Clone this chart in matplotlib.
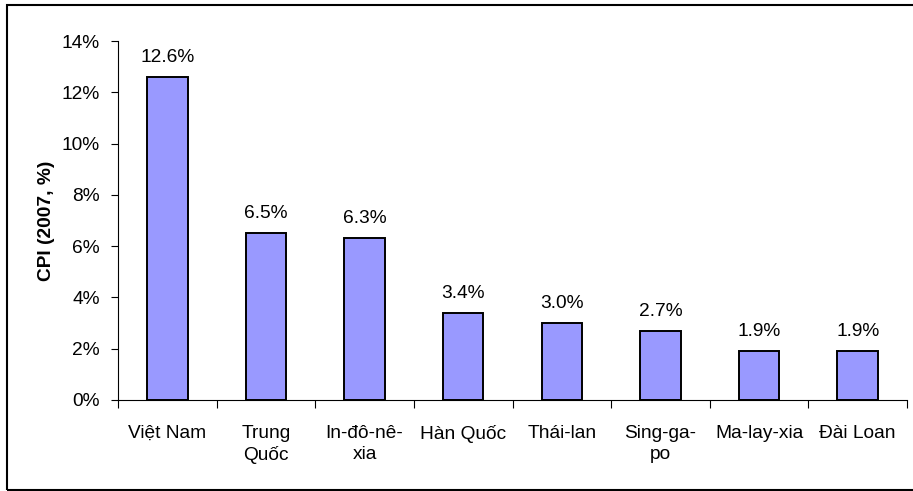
import matplotlib.pyplot as plt
from matplotlib.patches import Rectangle
from matplotlib.ticker import FixedLocator, FuncFormatter, NullFormatter
import numpy as np

plt.rcParams['font.family'] = ['Liberation Sans', 'DejaVu Sans']

# CPI 2007 by economy (%)
countries = ["Việt Nam", "Trung\nQuốc", "In-đô-nê-\nxia", "Hàn Quốc",
             "Thái-lan", "Sing-ga-\npo", "Ma-lay-xia", "Đài Loan"]
cpi = [12.6, 6.5, 6.3, 3.4, 3.0, 2.7, 1.9, 1.9]
ylabel = "CPI (2007, %)"

fs = 13.8

fig = plt.figure(figsize=(9.13, 4.91), dpi=100)
ax = fig.add_axes([118 / 913, 1 - 400 / 491, (907 - 118) / 913, (400 - 41) / 491])

x = np.arange(len(countries))
bars = ax.bar(x, cpi, width=0.41, color="#9999FF", edgecolor="black", linewidth=1.4, zorder=3)

for b, v in zip(bars, cpi):
    ax.annotate("%.1f%%" % v, (b.get_x() + b.get_width() / 2, v),
                xytext=(0, 8), textcoords="offset points",
                ha="center", va="bottom", fontsize=fs)

ax.set_xlim(-0.5, len(countries) - 0.5)
ax.set_ylim(0, 14)
ax.set_yticks(np.arange(0, 15, 2))
ax.yaxis.set_major_formatter(FuncFormatter(lambda v, p: "%d%%" % v))

# tick marks sit between categories, labels at the centres
ax.xaxis.set_major_locator(FixedLocator(np.arange(-0.5, len(countries), 1.0)))
ax.xaxis.set_major_formatter(NullFormatter())
ax.xaxis.set_minor_locator(FixedLocator(x))
ax.set_xticklabels(countries, minor=True, fontsize=fs, linespacing=1.3, va="top")
ax.tick_params(axis="x", which="minor", length=0, pad=18)
ax.tick_params(axis="x", which="major", length=6, width=0.8)
ax.tick_params(axis="y", length=5, width=0.8, labelsize=fs, pad=8)

for s in ["top", "right"]:
    ax.spines[s].set_visible(False)
for s in ["left", "bottom"]:
    ax.spines[s].set_linewidth(0.8)

ax.set_ylabel(ylabel, fontsize=fs, fontweight="bold", labelpad=5)

# frame around the whole chart
fig.patches.append(Rectangle((7 / 913, 1 - 490 / 491), 1.0, (490 - 5) / 491,
                             transform=fig.transFigure, fill=False,
                             edgecolor="black", linewidth=1.5))

fig.savefig("out.png", dpi=100)
